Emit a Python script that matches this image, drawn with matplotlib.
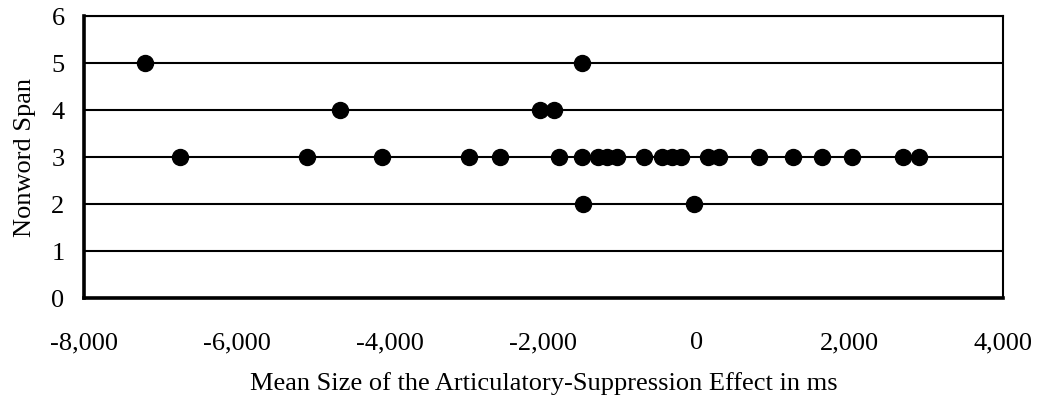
import matplotlib.pyplot as plt
from matplotlib.ticker import FuncFormatter

# articulatory-suppression effect (ms) and nonword span per participant
span5 = [-7210, -1500]
span4 = [-4660, -2045, -1865]
span3 = [-6740, -5085, -4115, -2970, -2570, -1795, -1500, -1285, -1175, -1035,
         -690, -450, -325, -205, 150, 295, 815, 1260, 1635, 2030, 2690, 2905]
span2 = [-1480, -30]

effect = span5 + span4 + span3 + span2
span = [5] * len(span5) + [4] * len(span4) + [3] * len(span3) + [2] * len(span2)

plt.rcParams['font.family'] = ['Liberation Serif', 'DejaVu Serif']
plt.rcParams['font.size'] = 19

fig = plt.figure(figsize=(10.37, 4.02), dpi=100)
ax = fig.add_axes([84 / 1037, 1 - 298.7 / 402, 919 / 1037, 282 / 402])

ax.plot(effect, span, 'o', color='black', markersize=11.5, linestyle='none', zorder=3)

ax.set_xlim(-8000, 4000)
ax.set_ylim(0, 6)
ax.set_xticks(range(-8000, 4001, 2000))
ax.set_yticks(range(0, 7))
ax.xaxis.set_major_formatter(FuncFormatter(lambda v, p: '{:,.0f}'.format(v)))

ax.grid(axis='y', color='black', linewidth=1.5, zorder=1)
ax.tick_params(length=0)
ax.tick_params(axis='x', pad=24)
ax.tick_params(axis='y', pad=14)

for side in ['left', 'bottom']:
    ax.spines[side].set_linewidth(2.6)
for side in ['top', 'right']:
    ax.spines[side].set_linewidth(1.5)

ax.set_xlabel('Mean Size of the Articulatory-Suppression Effect in ms', labelpad=13)
ax.set_ylabel('Nonword Span', labelpad=11)

plt.savefig('out.png', dpi=100)
